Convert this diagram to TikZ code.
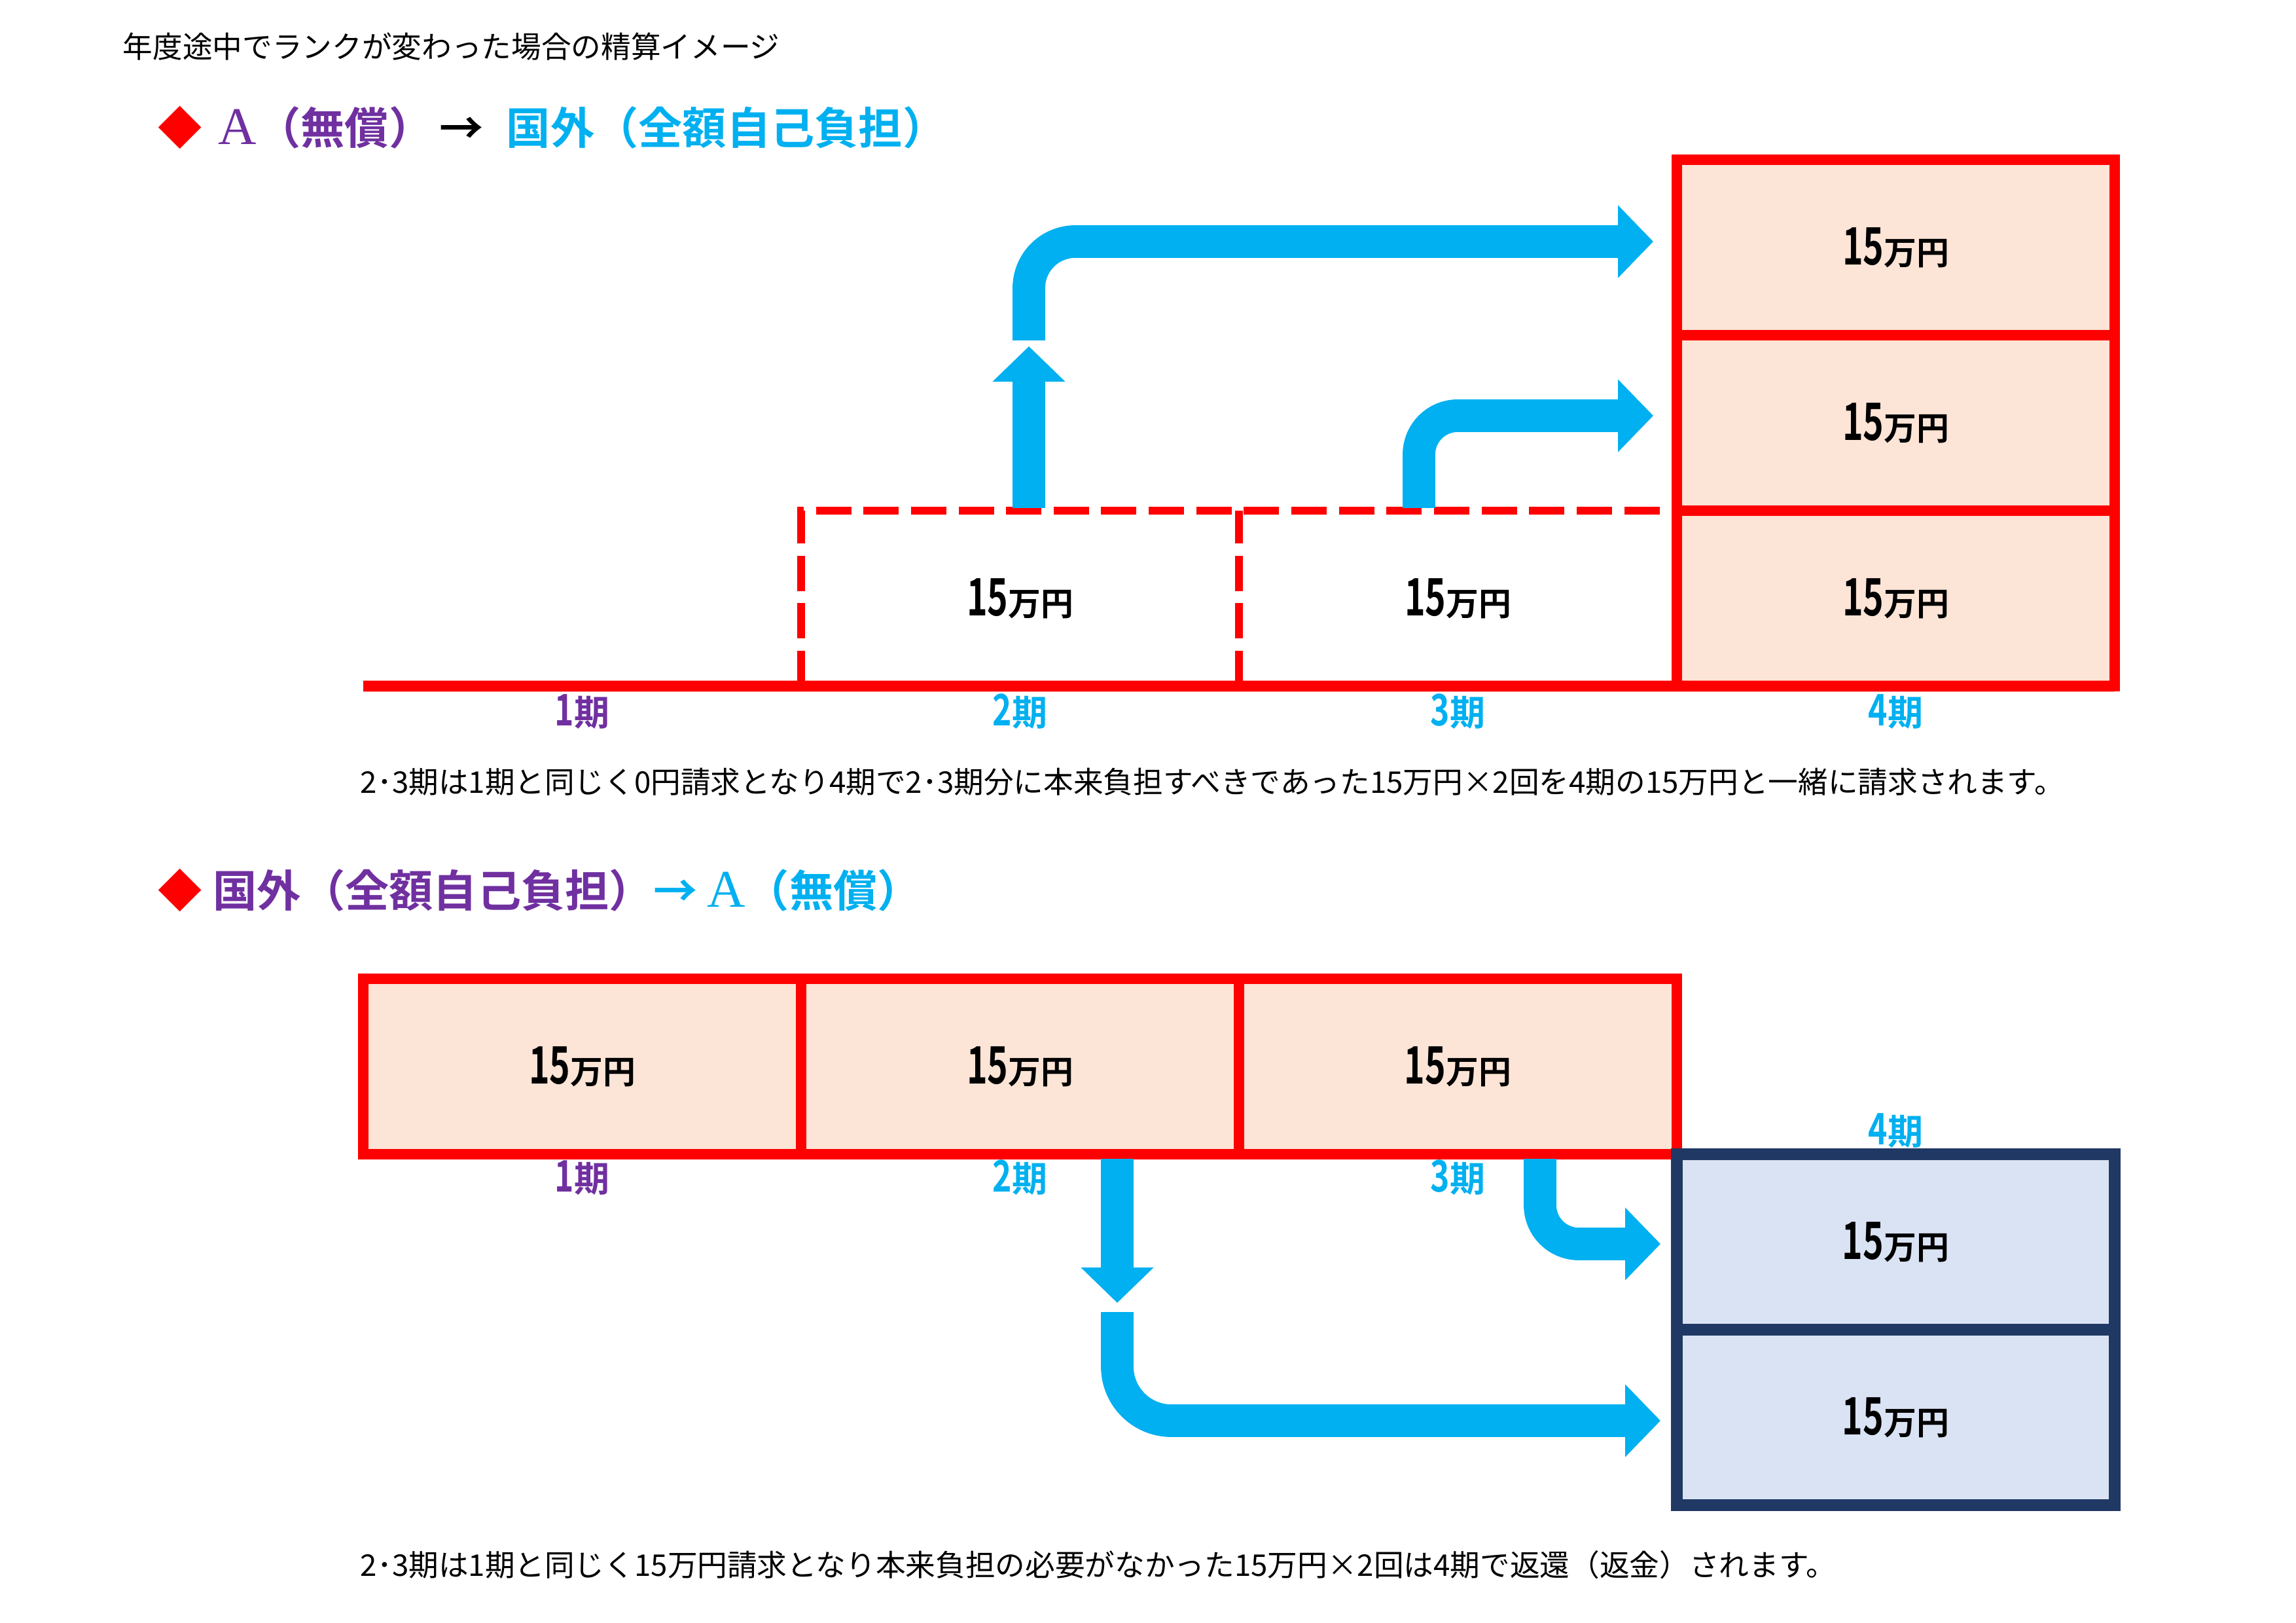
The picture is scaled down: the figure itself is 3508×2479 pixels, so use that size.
\documentclass[tikz,border=0pt]{standalone}
\usepackage{fontspec}
\setmainfont{Noto Sans CJK JP}[BoldFont={Noto Sans CJK JP Bold}]
\newfontfamily\latinserif{Liberation Serif}
\usetikzlibrary{positioning,arrows.meta}

\definecolor{rankpurple}{HTML}{7030A0}
\definecolor{flowblue}{HTML}{00B0F0}
\definecolor{peach}{HTML}{FCE4D6}
\definecolor{paleblue}{HTML}{DAE3F3}
\definecolor{navy}{HTML}{203864}

\newcommand{\amount}{{\fontsize{19pt}{19pt}\selectfont\scalebox{0.68}[1]{15}}{\fontsize{12pt}{12pt}\selectfont 万円}}
\newcommand{\termtext}[1]{{\fontsize{16pt}{16pt}\selectfont\scalebox{0.75}[1]{#1}}期}
\newcommand{\rankA}{{\mdseries\latinserif\fontsize{19.5pt}{19.5pt}\selectfont A}}

\tikzset{
	boxsize/.style={minimum width=56.64mm, minimum height=22.69mm, inner sep=0pt, outer sep=0pt},
	redbox/.style={boxsize, draw=red, line width=4pt, fill=peach, font=\bfseries},
	openbox/.style={boxsize, font=\bfseries},
	dashline/.style={draw=red, line width=3pt, dash pattern=on 13pt off 4.5pt},
	bluebox/.style={boxsize, draw=navy, line width=4.3pt, fill=paleblue, font=\bfseries},
	timeline/.style={draw=red, line width=4pt},
	flow/.style={draw=flowblue, line width=12pt, -{Triangle[width=26pt,length=13pt]}},
	termlabel/.style={inner sep=0pt, text=flowblue, font=\bfseries\fontsize{13pt}{13pt}\selectfont},
	heading/.style={anchor=west, inner sep=0pt, font=\bfseries\fontsize{16.2pt}{16.2pt}\selectfont},
	note/.style={anchor=west, inner sep=0pt, font=\fontsize{11pt}{11pt}\selectfont}
}

\begin{document}
\begin{tikzpicture}[x=0.084667mm, y=-0.084667mm]
	\useasboundingbox (0,0) rectangle (3508,2479);

	\node[note] (title) at (187,71) {年度途中でランクが変わった場合の精算イメージ};

	%% A -> kokugai
	\node[heading] (head1) at (241,195) {\textcolor{red}{◆}\hspace{6pt}\textcolor{rankpurple}{\rankA（無償）}\hspace{2.4pt}→\hspace{8.5pt}\textcolor{flowblue}{国外（全額自己負担）}};

	\node[openbox] (b2) at (1558.5,914) {\amount};
	\node[openbox, right=0pt of b2] (b3) {\amount};
	\draw[dashline] (b2.south west) |- (b3.north east);
	\draw[dashline] (b2.south east) -- (b2.north east);
	\node[redbox, right=0pt of b3] (c1) {\amount};
	\node[redbox, above=0pt of c1] (c2) {\amount};
	\node[redbox, above=0pt of c2] (c3) {\amount};
	\coordinate (t0) at (555,1048);
	\draw[timeline] (t0) -- (c1.south east);

	\node[termlabel, text=rankpurple] (p1) at (889.5,1087) {\termtext{1}};
	\node[termlabel] (p2) at (1558.5,1087) {\termtext{2}};
	\node[termlabel] (p3) at (2227.5,1087) {\termtext{3}};
	\node[termlabel] (p4) at (2896.5,1087) {\termtext{4}};

	\coordinate (up1a) at (1572,776);
	\coordinate (up1b) at (1572,529);
	\draw[flow] (up1a) -- (up1b);
	\coordinate (bend1a) at (1572,520);
	\coordinate (bend1b) at (2526,369);
	\draw[flow, rounded corners=6mm] (bend1a) |- (bend1b);
	\coordinate (bend2a) at (2168,776);
	\coordinate (bend2b) at (2526,635);
	\draw[flow, rounded corners=5mm] (bend2a) |- (bend2b);

	\node[note] (note1) at (550,1194) {2･3期は1期と同じく0円請求となり4期で2･3期分に本来負担すべきであった15万円×2回を4期の15万円と一緒に請求されます。};

	%% kokugai -> A
	\node[heading] (head2) at (241,1360) {\textcolor{red}{◆}\hspace{4pt}\textcolor{rankpurple}{国外（全額自己負担）}\textcolor{flowblue}{→\hspace{3.6pt}\rankA（無償）}};

	\node[redbox] (d1) at (889.5,1629) {\amount};
	\node[redbox, right=0pt of d1] (d2) {\amount};
	\node[redbox, right=0pt of d2] (d3) {\amount};
	\node[bluebox, anchor=north west] (e1) at (d3.south east) {\amount};
	\node[bluebox, below=0pt of e1] (e2) {\amount};

	\node[termlabel, text=rankpurple] (q1) at (889.5,1799) {\termtext{1}};
	\node[termlabel] (q2) at (1558.5,1799) {\termtext{2}};
	\node[termlabel] (q3) at (2227.5,1799) {\termtext{3}};
	\node[termlabel] (q4) at (2896.5,1727) {\termtext{4}};

	\coordinate (down1a) at (1707,1770);
	\coordinate (down1b) at (1707,1990);
	\draw[flow] (down1a) -- (down1b);
	\coordinate (bend3a) at (1707,2004);
	\coordinate (bend3b) at (2537,2170);
	\draw[flow, rounded corners=7mm] (bend3a) |- (bend3b);
	\coordinate (bend4a) at (2353,1770);
	\coordinate (bend4b) at (2537,1900);
	\draw[flow, rounded corners=5mm] (bend4a) |- (bend4b);

	\node[note] (note2) at (550,2390) {2･3期は1期と同じく15万円請求となり本来負担の必要がなかった15万円×2回は4期で返還（返金）されます。};
\end{tikzpicture}
\end{document}
